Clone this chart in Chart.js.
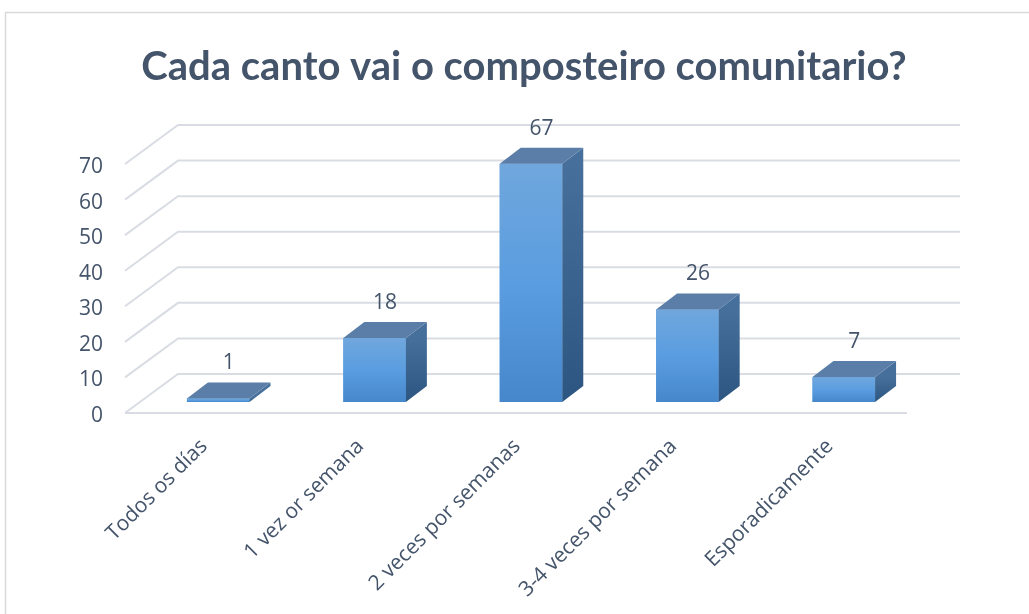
<!DOCTYPE html>
<html>
<head>
<meta charset="utf-8">
<script src="https://cdn.jsdelivr.net/npm/chart.js@4.4.0/dist/chart.umd.min.js"></script>
<style>
  html, body { margin: 0; padding: 0; background: #fff; }
  canvas { display: block; }
</style>
</head>
<body>
<canvas id="chart" width="1029" height="614"></canvas>
<script>
const categories = ['Todos os días', '1 vez or semana', '2 veces por semanas', '3-4 veces por semana', 'Esporadicamente'];
const responses = [1, 18, 67, 26, 7];
const yTicks = [0, 10, 20, 30, 40, 50, 60, 70];

const TEXT = '#44546a';
const GRID = '#d9dde3';
// oblique offsets relative to the plane the bar fronts sit on
const front = {x: -15, y: 11};
const back = {x: 38, y: -28};
const depth = {x: 21, y: -16};

const box3d = {
  id: 'box3d',
  beforeDraw(chart) {
    const ctx = chart.ctx;
    ctx.save();
    ctx.strokeStyle = '#d9d9d9';
    ctx.lineWidth = 1.5;
    ctx.beginPath();
    ctx.moveTo(5.5, chart.height);
    ctx.lineTo(5.5, 12.5);
    ctx.lineTo(chart.width, 12.5);
    ctx.stroke();
    ctx.restore();
  },
  beforeDatasetsDraw(chart) {
    const {ctx, chartArea: {left, right}, scales: {y}} = chart;
    ctx.save();
    ctx.strokeStyle = GRID;
    ctx.lineWidth = 2;
    ctx.beginPath();
    yTicks.forEach(v => {
      const py = y.getPixelForValue(v);
      ctx.moveTo(left + front.x, py + front.y);
      ctx.lineTo(left + back.x, py + back.y);
      ctx.lineTo(right + back.x, py + back.y);
    });
    const p0 = y.getPixelForValue(0);
    ctx.moveTo(left + front.x, p0 + front.y);
    ctx.lineTo(right + front.x, p0 + front.y);
    ctx.stroke();
    ctx.restore();
  },
  afterDatasetsDraw(chart) {
    const ctx = chart.ctx;
    const values = chart.data.datasets[0].data;
    ctx.save();
    chart.getDatasetMeta(0).data.forEach((bar, i) => {
      const {x, y, base, width} = bar.getProps(['x', 'y', 'base', 'width'], true);
      const l = x - width / 2, r = x + width / 2;
      // front face
      let g = ctx.createLinearGradient(0, y, 0, base);
      g.addColorStop(0, '#70a7dd');
      g.addColorStop(0.5, '#5a9de0');
      g.addColorStop(1, '#4587ca');
      ctx.fillStyle = g;
      ctx.fillRect(l, y, width, base - y);
      // side face
      g = ctx.createLinearGradient(0, y, 0, base);
      g.addColorStop(0, '#476f9b');
      g.addColorStop(1, '#2c5681');
      ctx.fillStyle = g;
      ctx.beginPath();
      ctx.moveTo(r, y);
      ctx.lineTo(r + depth.x, y + depth.y);
      ctx.lineTo(r + depth.x, base + depth.y);
      ctx.lineTo(r, base);
      ctx.closePath();
      ctx.fill();
      // top face
      ctx.fillStyle = '#5a7ea8';
      ctx.beginPath();
      ctx.moveTo(l, y);
      ctx.lineTo(l + depth.x, y + depth.y);
      ctx.lineTo(r + depth.x, y + depth.y);
      ctx.lineTo(r, y);
      ctx.closePath();
      ctx.fill();
      // value label
      ctx.fillStyle = TEXT;
      ctx.font = '21px "Open Sans"';
      ctx.textAlign = 'center';
      ctx.textBaseline = 'middle';
      ctx.fillText(values[i], x + depth.x / 2, y + depth.y - 19);
    });
    ctx.restore();
  }
};

new Chart(document.getElementById('chart'), {
  type: 'bar',
  data: {
    labels: categories,
    datasets: [{
      data: responses,
      backgroundColor: '#5a9de0',
      barPercentage: 0.4,
      categoryPercentage: 1
    }]
  },
  options: {
    responsive: false,
    animation: false,
    layout: {padding: {left: 19, right: 0, top: 0, bottom: 0}},
    plugins: {
      legend: {display: false},
      tooltip: {enabled: false},
      title: {
        display: true,
        text: 'Cada canto vai o composteiro comunitario?',
        color: TEXT,
        font: {family: 'Lato', size: 40, weight: 'bold'},
        padding: {top: 43, bottom: 62}
      }
    },
    scales: {
      x: {
        grid: {display: false},
        border: {display: false},
        ticks: {
          color: TEXT,
          font: {family: 'Open Sans', size: 21},
          minRotation: 45,
          maxRotation: 45,
          padding: 24,
          labelOffset: -14
        },
        afterFit: s => { s.height = 212; }
      },
      y: {
        min: 0,
        max: 70,
        grid: {display: false},
        border: {display: false},
        afterFit: s => { s.width = 121; },
        ticks: {
          stepSize: 10,
          color: TEXT,
          font: {family: 'Open Sans', size: 21},
          padding: 29,
          labelOffset: 14
        }
      },
      // empty right-hand axis keeps room for the back wall
      side: {
        position: 'right',
        grid: {display: false},
        border: {display: false},
        ticks: {display: false},
        afterFit: s => { s.width = 107; }
      }
    }
  },
  plugins: [box3d]
});
</script>
</body>
</html>
